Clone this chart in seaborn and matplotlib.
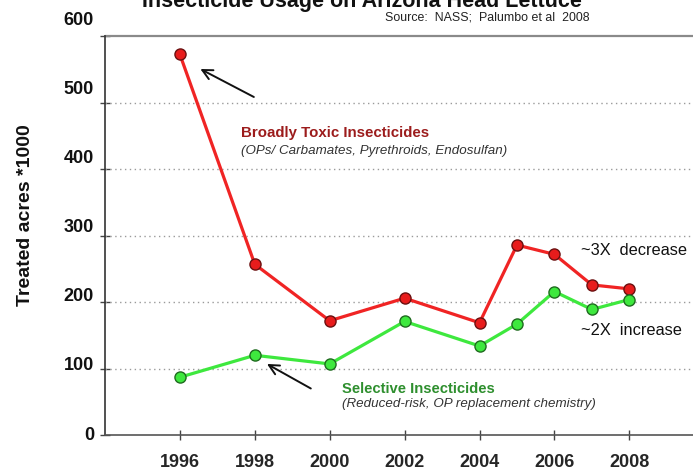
import numpy as np
import pandas as pd
import seaborn as sns
import matplotlib.pyplot as plt
import matplotlib.transforms as mtransforms

sns.set_theme(style="white")
plt.rcParams['font.family'] = ['Liberation Sans', 'DejaVu Sans']

years = [1996, 1998, 2000, 2002, 2004, 2005, 2006, 2007, 2008]
broad_toxic = [573, 257, 172, 206, 169, 286, 272, 226, 220]
selective = [87, 120, 107, 171, 134, 167, 216, 189, 204]
x_ticks = [1996, 1998, 2000, 2002, 2004, 2006, 2008]
y_ticks = [0, 100, 200, 300, 400, 500, 600]

title = "Insecticide Usage on Arizona Head Lettuce"
source = "Source:  NASS;  Palumbo et al  2008"
ylabel = "Treated acres *1000"

df = pd.DataFrame({"year": years, "broad": broad_toxic, "sel": selective})

fig = plt.figure(figsize=(6.93, 4.70), dpi=100)
ax = fig.add_axes([105 / 693, 35 / 470, 1 - 105 / 693, (435 - 36.5) / 470])

red_line = "#f02424"
green_line = "#3ee83e"

sns.lineplot(data=df, x="year", y="broad", ax=ax, color=red_line, lw=2.3,
             marker="o", markersize=8, markerfacecolor="#e81c1c",
             markeredgecolor="#6b1010", markeredgewidth=1.0, zorder=4)
sns.lineplot(data=df, x="year", y="sel", ax=ax, color=green_line, lw=2.3,
             marker="o", markersize=8, markerfacecolor="#3ee83e",
             markeredgecolor="#1f6b1f", markeredgewidth=1.0, zorder=4)

ax.set_xlim(1994, 2009.7)
ax.set_ylim(0, 600)
ax.set_xticks(x_ticks)
ax.set_xticklabels([str(v) for v in x_ticks], fontsize=13, fontweight="bold")
ax.set_yticks(y_ticks)
ax.set_yticklabels([])
ax.set_xlabel("")
ax.set_ylabel("")

# grid lines
for v in y_ticks[1:-1]:
    ax.axhline(v, color="#9a9a9a", lw=1.0, ls=(0, (1, 2.5)), zorder=1)
ax.axhline(600, color="#8a8a8a", lw=1.6, zorder=1, clip_on=False)

for s in ["top", "right"]:
    ax.spines[s].set_visible(False)
ax.spines["left"].set_color("#333333")
ax.spines["left"].set_linewidth(1.2)
ax.spines["bottom"].set_color("#555555")
ax.spines["bottom"].set_linewidth(1.2)

ax.tick_params(axis="x", direction="inout", length=7, width=1, color="#444444",
               pad=10, bottom=True)
ax.tick_params(axis="y", direction="inout", length=7, width=1, color="#444444",
               left=True, labelleft=False)

# y tick labels (slightly spread upward as in the reference)
trans = mtransforms.blended_transform_factory(ax.transAxes, ax.transData)
for v in y_ticks:
    ax.text(-11 / 588, v * 1.04, str(v), transform=trans, ha="right",
            va="center", fontsize=13, fontweight="bold", color="#111111",
            clip_on=False)

fig.text(26 / 693, 1 - 215 / 470, ylabel, rotation=90, ha="center",
         va="center", fontsize=14, fontweight="bold", color="#111111")

fig.text(362 / 693, 1 - 7 / 470, title, ha="center", va="baseline",
         fontsize=15.5, fontweight="bold", color="#111111")
fig.text(487 / 693, 1 - 18 / 470, source, ha="center", va="center",
         fontsize=8.9, color="#222222")

# annotations
ax.text(1997.64, 455, "Broadly Toxic Insecticides", color="#9c1c1c",
        fontsize=10.8, fontweight="bold", ha="left", va="center")
ax.text(1997.64, 428, "(OPs/ Carbamates, Pyrethroids, Endosulfan)",
        color="#333333", fontsize=9.6, style="italic", ha="left", va="center")
ax.text(2000.33, 70, "Selective Insecticides", color="#2e8f2e",
        fontsize=10.6, fontweight="bold", ha="left", va="center")
ax.text(2000.33, 47, "(Reduced-risk, OP replacement chemistry)",
        color="#333333", fontsize=9.6, style="italic", ha="left", va="center")
ax.text(2006.72, 278, "~3X  decrease", color="#111111", fontsize=11.8,
        ha="left", va="center", clip_on=False)
ax.text(2006.72, 158, "~2X  increase", color="#111111", fontsize=11.8,
        ha="left", va="center", clip_on=False)

ax.annotate("", xy=(1996.48, 553), xytext=(1998.04, 507),
            arrowprops=dict(arrowstyle="->", color="#111111", lw=1.4,
                            mutation_scale=18))
ax.annotate("", xy=(1998.26, 109), xytext=(1999.56, 68),
            arrowprops=dict(arrowstyle="->", color="#111111", lw=1.4,
                            mutation_scale=18))

fig.savefig("out.png", dpi=100)
